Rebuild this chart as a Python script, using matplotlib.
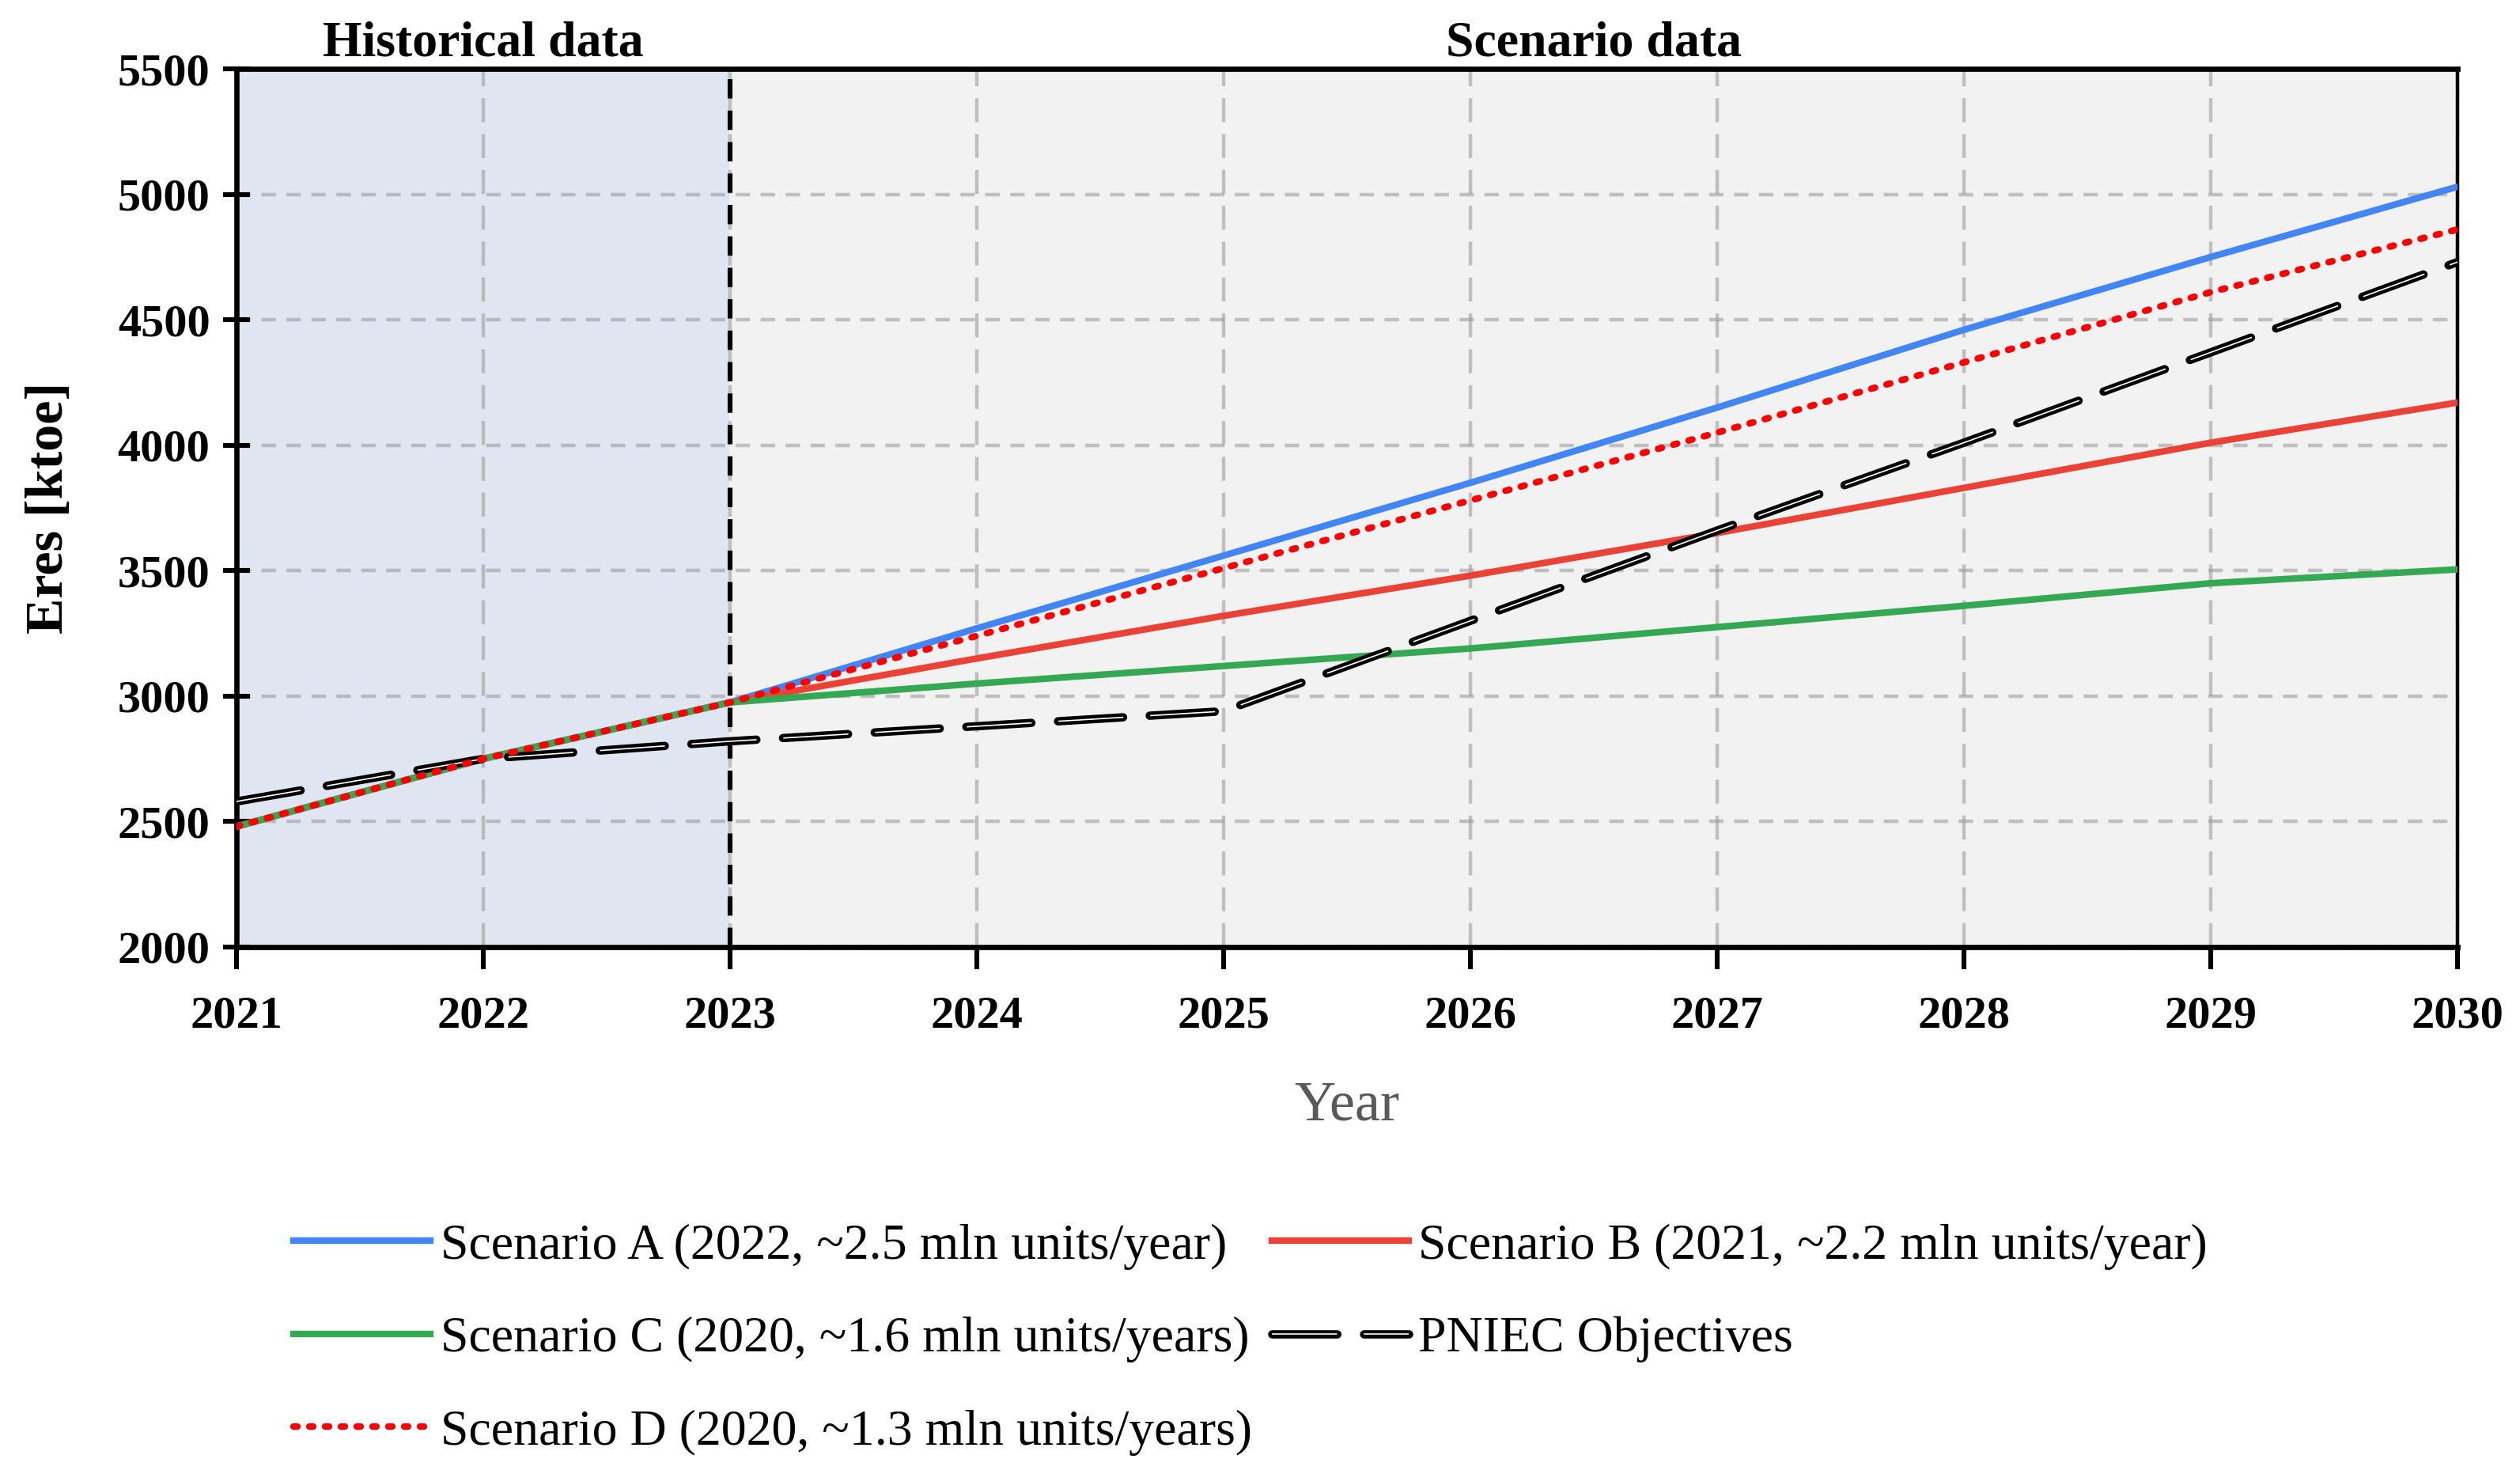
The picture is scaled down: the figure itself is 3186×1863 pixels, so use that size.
import numpy as np
import matplotlib.pyplot as plt
from matplotlib.legend_handler import HandlerTuple

plt.rcParams['font.family'] = ['Liberation Serif', 'DejaVu Serif']

years = [2021, 2022, 2023, 2024, 2025, 2026, 2027, 2028, 2029, 2030]
scen_a = [2480, 2750, 2975, 3270, 3560, 3850, 4150, 4460, 4750, 5030]
scen_b = [2480, 2750, 2975, 3150, 3320, 3480, 3650, 3830, 4010, 4170]
scen_c = [2480, 2750, 2975, 3050, 3120, 3190, 3275, 3360, 3450, 3505]
scen_d = [2480, 2750, 2975, 3240, 3510, 3780, 4050, 4330, 4610, 4860]
pniec = [2580, 2750, 2820, 2880, 2940, 3300, 3660, 4010, 4370, 4730]

labels = ['Scenario A (2022, ~2.5 mln units/year)',
          'Scenario B (2021, ~2.2 mln units/year)',
          'Scenario C (2020, ~1.6 mln units/years)',
          'PNIEC Objectives',
          'Scenario D (2020, ~1.3 mln units/years)']

fig = plt.figure(figsize=(15.93, 9.315), dpi=200)
ax = fig.add_axes([0.0938, 0.3575, 0.8814, 0.5958])

# background regions
ax.axvspan(2021, 2023, color='#dfe5f1', zorder=0)
ax.axvspan(2023, 2030, color='#f2f2f2', zorder=0)
ax.grid(True, axis='y', color='#9a9a9a', alpha=0.58, linestyle=(0, (4.1, 3)), linewidth=1.6, zorder=1)
ax.grid(True, axis='x', color='#9a9a9a', alpha=0.58, linestyle=(0, (6.8, 3.4)), linewidth=1.6, zorder=1)
ax.axvline(2023, color='black', linestyle=(0, (4, 2.5)), linewidth=2.2, zorder=2)

la, = ax.plot(years, scen_a, color='#4285f4', lw=3, zorder=4)
lb, = ax.plot(years, scen_b, color='#ea4335', lw=3, zorder=4)
lc, = ax.plot(years, scen_c, color='#34a853', lw=3, zorder=4)
lp1, = ax.plot(years, pniec, color='black', lw=3.8, linestyle=(0, (7.8, 3.2)),
               dash_capstyle='round', zorder=5)
lp2, = ax.plot(years, pniec, color='white', lw=0.6, linestyle=(0, (49.4, 20.3)),
               dash_capstyle='butt', zorder=6)
ld, = ax.plot(years, scen_d, color='#ff0000', lw=3, linestyle=(0, (0.6, 1.8)),
              dash_capstyle='round', zorder=7)

ax.set_xlim(2021, 2030)
ax.set_ylim(2000, 5500)
ax.set_xticks(years)
ax.set_yticks(np.arange(2000, 5501, 500))
ax.tick_params(axis='x', direction='out', length=10, width=2.2, labelsize=21, pad=12)
ax.tick_params(axis='y', direction='inout', length=12, width=2.2, labelsize=21, pad=6)
for t in ax.get_xticklabels() + ax.get_yticklabels():
    t.set_fontweight('bold')

for side in ['left', 'bottom', 'top']:
    ax.spines[side].set_linewidth(2.4)
ax.spines['right'].set_linewidth(1.6)

ax.set_ylabel('Eres [ktoe]', fontsize=24.5, fontweight='bold', labelpad=20)
ax.set_xlabel('Year', fontsize=26, color='#595959', labelpad=20)

ax.text(2022, 5600, 'Historical data', ha='center', va='center', fontsize=23, fontweight='bold')
ax.text(2026.5, 5600, 'Scenario data', ha='center', va='center', fontsize=23, fontweight='bold')

leg = fig.legend([la, lc, ld, lb, (lp1, lp2)],
                 [labels[0], labels[2], labels[4], labels[1], labels[3]],
                 handler_map={tuple: HandlerTuple(ndivide=1)},
                 ncol=2, loc='upper left', bbox_to_anchor=(0.0985, 0.201),
                 frameon=False, fontsize=23, handlelength=2.7, handletextpad=0.2,
                 columnspacing=0.4, labelspacing=0.92)

fig.savefig('out.png', dpi=200)
